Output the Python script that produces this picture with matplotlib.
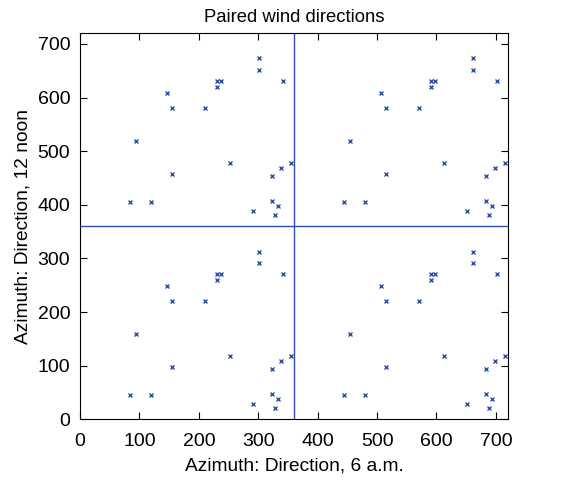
import numpy as np
import matplotlib
matplotlib.use("Agg")
import matplotlib.pyplot as plt

plt.rcParams['font.family'] = ['Liberation Sans', 'DejaVu Sans']

# wind direction pairs (degrees), 6 a.m. and 12 noon
dir_6am = np.array([84, 95, 120, 146, 155, 155, 210, 231, 231, 237, 253,
                    292, 302, 302, 323, 323, 328, 333, 338, 342, 355])
dir_noon = np.array([45, 160, 45, 248, 220, 97, 220, 260, 271, 271, 118,
                     28, 313, 291, 93, 47, 21, 38, 108, 271, 118])

# repeat in the four quadrants (x, x+360) and (y, y+360)
xs = np.concatenate([dir_6am, dir_6am + 360, dir_6am, dir_6am + 360])
ys = np.concatenate([dir_noon, dir_noon, dir_noon + 360, dir_noon + 360])

col = "#3050a8"

fig = plt.figure(figsize=(5.86, 4.82), dpi=100)
ax = fig.add_axes([0.1365, 0.130, 0.73, 0.801])

ax.plot(xs, ys, "x", color=col, markersize=3.5, markeredgewidth=1.0)
ax.axhline(360, color=col, linewidth=1.0)
ax.axvline(360, color=col, linewidth=1.0)

ax.set_xlim(0, 720)
ax.set_ylim(0, 720)
ax.set_xticks(range(0, 701, 100))
ax.set_yticks(range(0, 701, 100))
ax.tick_params(direction="in", top=True, right=True, labelsize=14, length=5)
ax.tick_params(axis="x", pad=10)
ax.tick_params(axis="y", pad=7)

ax.set_title("Paired wind directions", fontsize=13.3, pad=8)
ax.set_xlabel("Azimuth: Direction, 6 a.m.", fontsize=13.8, labelpad=5)
ax.set_ylabel("Azimuth: Direction, 12 noon", fontsize=13.8, labelpad=4)

fig.savefig("out.png", dpi=100)
